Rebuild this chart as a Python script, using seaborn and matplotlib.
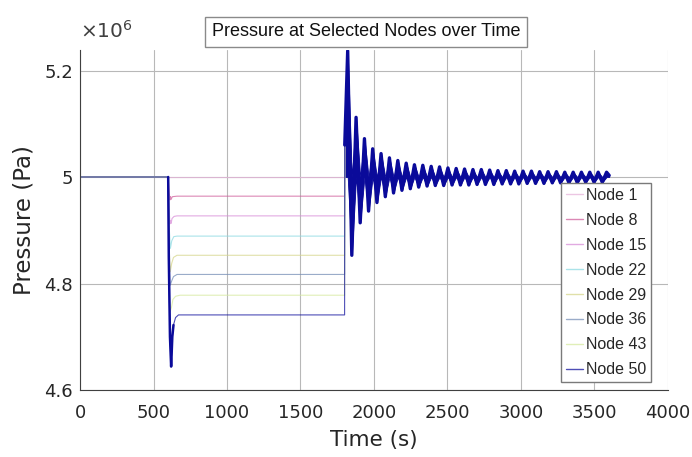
import matplotlib
matplotlib.use("Agg")
import matplotlib.pyplot as plt
import seaborn as sns
import pandas as pd

# ---------------- data (pressure in units of 1e6 Pa) ----------------
node_names = ["Node 1", "Node 8", "Node 15", "Node 22", "Node 29", "Node 36", "Node 43", "Node 50"]
node_colors = ["#e6b4da", "#d0609c", "#d88ed8", "#8edae2", "#d6d68c", "#7890b8", "#d6eaa0", "#12129e"]

# per-node response up to the second event at t = 1800 s
t_n1 = [0, 600, 1800]
p_n1 = [5.000, 4.999, 4.999]
t_n8 = [0, 600, 606, 612, 616, 620, 628, 660, 1800]
p_n8 = [5.000, 5.000, 4.972, 4.957, 4.963, 4.958, 4.963, 4.964, 4.964]
t_n15 = [0, 600, 606, 612, 616, 620, 626, 640, 660, 1800]
p_n15 = [5.000, 5.000, 4.940, 4.912, 4.918, 4.913, 4.922, 4.926, 4.927, 4.927]
t_n22 = [0, 600, 608, 615, 624, 638, 660, 1800]
p_n22 = [5.000, 5.000, 4.900, 4.866, 4.880, 4.888, 4.889, 4.889]
t_n29 = [0, 600, 606, 614, 624, 636, 660, 1800]
p_n29 = [5.000, 5.000, 4.870, 4.822, 4.838, 4.849, 4.853, 4.853]
t_n36 = [0, 600, 606, 614, 624, 636, 660, 1800]
p_n36 = [5.000, 5.000, 4.850, 4.797, 4.805, 4.813, 4.817, 4.817]
t_n43 = [0, 600, 606, 614, 622, 632, 650, 680, 1800]
p_n43 = [5.000, 5.000, 4.800, 4.748, 4.755, 4.770, 4.776, 4.778, 4.778]
t_n50 = [0, 600, 604, 612, 620, 628, 636, 650, 670, 1800]
p_n50 = [5.000, 5.000, 4.850, 4.700, 4.644, 4.700, 4.722, 4.736, 4.741, 4.741]

# damped oscillation band after t = 1800 s: upper edge at the crests, lower edge at the troughs
osc_start_t = [1801]
osc_start_p = [5.060]
osc_peak_t = [1821, 1878, 1935, 1991, 2048, 2105, 2162, 2219, 2275, 2332, 2389, 2446, 2503, 2559,
              2616, 2673, 2730, 2787, 2843, 2900, 2957, 3014, 3071, 3127, 3184, 3241, 3298, 3355,
              3411, 3468, 3525, 3582]
osc_peak_p = [5.237, 5.112, 5.072, 5.053, 5.044, 5.036, 5.031, 5.026, 5.023, 5.022, 5.020, 5.019,
              5.017, 5.016, 5.015, 5.014, 5.014, 5.013, 5.012, 5.012, 5.011, 5.011, 5.011, 5.010,
              5.010, 5.010, 5.009, 5.009, 5.009, 5.009, 5.009, 5.009]
osc_trough_t = [1849, 1906, 1963, 2020, 2077, 2133, 2190, 2247, 2304, 2361, 2417, 2474, 2531, 2588,
                2645, 2701, 2758, 2815, 2872, 2929, 2985, 3042, 3099, 3156, 3213, 3269, 3326, 3383,
                3440, 3497, 3553]
osc_trough_p = [4.853, 4.914, 4.936, 4.952, 4.963, 4.970, 4.975, 4.978, 4.981, 4.983, 4.984, 4.984,
                4.985, 4.985, 4.985, 4.986, 4.986, 4.986, 4.987, 4.987, 4.987, 4.988, 4.988, 4.988,
                4.989, 4.989, 4.989, 4.989, 4.990, 4.990, 4.990]
osc_end_t = [3600]
osc_end_p = [5.003]
osc_base = 5.0

# the dip of Node 50 right after the first event, drawn heavier (dense region)
n50_dip_window = [598, 640]

x_ticks = [0, 500, 1000, 1500, 2000, 2500, 3000, 3500, 4000]
y_ticks = [4.6, 4.8, 5.0, 5.2]
y_tick_labels = ["4.6", "4.8", "5", "5.2"]

title_text = "Pressure at Selected Nodes over Time"
x_label = "Time (s)"
y_label = "Pressure (Pa)"
exponent_text = r"$\times10^{6}$"

# ---------------- build tables ----------------
events = ([(a, b, "start") for a, b in zip(osc_start_t, osc_start_p)]
          + [(a, b, "peak") for a, b in zip(osc_peak_t, osc_peak_p)]
          + [(a, b, "trough") for a, b in zip(osc_trough_t, osc_trough_p)]
          + [(a, b, "end") for a, b in zip(osc_end_t, osc_end_p)])
events.sort(key=lambda e: e[0])
osc_t = [e[0] for e in events]
osc_p = [e[1] for e in events]
band_upper = [e[1] if e[2] in ("peak", "start", "end") else osc_base for e in events]
band_lower = [e[1] if e[2] == "trough" else min(osc_base, e[1]) for e in events]
df_band = pd.DataFrame({"t": osc_t, "p": osc_p, "upper": band_upper, "lower": band_lower})

pre = {
    "Node 1": (t_n1, p_n1), "Node 8": (t_n8, p_n8), "Node 15": (t_n15, p_n15),
    "Node 22": (t_n22, p_n22), "Node 29": (t_n29, p_n29), "Node 36": (t_n36, p_n36),
    "Node 43": (t_n43, p_n43), "Node 50": (t_n50, p_n50),
}
rows = []
for name in node_names:
    tt, pp = pre[name]
    ts = list(tt) + osc_t
    ps = list(pp) + osc_p
    for i, (a, b) in enumerate(zip(ts, ps)):
        rows.append({"node": name, "order": i, "t": a, "p": b})
df = pd.DataFrame(rows)
df_dip = pd.DataFrame({"t": t_n50, "p": p_n50})
df_dip = df_dip[(df_dip["t"] >= n50_dip_window[0]) & (df_dip["t"] <= n50_dip_window[1])]

# ---------------- style ----------------
sns.set_theme(style="white")
plt.rcParams["font.family"] = ["DejaVu Sans"]

label_font = "Liberation Sans"

fig = plt.figure(figsize=(6.92, 4.57), dpi=100)
ax = fig.add_axes([80 / 692, 1 - 390 / 457, 588 / 692, 340 / 457])
ax.set_facecolor("white")

palette = dict(zip(node_names, node_colors))
for name in node_names:
    sub = df[df["node"] == name].sort_values("order")
    sns.lineplot(data=sub, x="t", y="p", ax=ax, color=palette[name], linewidth=0.8, alpha=0.75,
                 sort=False, estimator=None, label=name)

navy = "#0a0a9a"
# dense dip of Node 50 near t = 600 s
sns.lineplot(data=df_dip, x="t", y="p", ax=ax, color=navy, linewidth=1.8,
             sort=False, estimator=None, legend=False)
# the dense band after the second event (all nodes overlap here)
ax.fill_between(df_band["t"], df_band["lower"], df_band["upper"], facecolor=navy,
                edgecolor=navy, linewidth=0.6)
sns.lineplot(data=df_band, x="t", y="p", ax=ax, color=navy, linewidth=2.4,
             sort=False, estimator=None, legend=False)

ax.set_xlim(0, 4000)
ax.set_ylim(4.6, 5.2385)
ax.set_xticks(x_ticks)
ax.set_xticklabels([str(v) for v in x_ticks])
ax.set_yticks(y_ticks)
ax.set_yticklabels(y_tick_labels)
ax.grid(True, color="#b8b8b8", linewidth=0.8)
ax.set_axisbelow(True)
for side in ["top", "right"]:
    ax.spines[side].set_visible(False)
for side in ["left", "bottom"]:
    ax.spines[side].set_color("#404040")
    ax.spines[side].set_linewidth(0.8)
ax.tick_params(axis="both", length=0, labelsize=13, colors="#262626")
ax.tick_params(axis="x", pad=10)
ax.tick_params(axis="y", pad=5)

ax.set_xlabel(x_label, fontsize=15.5, color="#262626", labelpad=6)
ax.set_ylabel(y_label, fontsize=16.5, color="#262626", labelpad=6)

leg = ax.legend(loc="lower right", bbox_to_anchor=(0.971, 0.0235), borderaxespad=0,
                frameon=True, fancybox=False, prop={"family": label_font, "size": 11.5},
                handlelength=1.05, handletextpad=0.2, labelspacing=0.62,
                borderpad=0.3)
leg.get_frame().set_edgecolor("#7a7a7a")
leg.get_frame().set_linewidth(1.0)
leg.get_frame().set_facecolor("white")
leg.get_frame().set_alpha(1)
for h in leg.get_lines():
    h.set_linewidth(1.0)

fig.text(366 / 692, 1 - 32 / 457, title_text, ha="center", va="center", fontsize=13,
         family=label_font, color="#111111",
         bbox=dict(boxstyle="square,pad=0.35", facecolor="white", edgecolor="#8a8a8a", linewidth=1.0))
fig.text(80 / 692, 1 - 31 / 457, exponent_text, ha="left", va="center", fontsize=14.5, color="#404040")

fig.savefig("out.png", dpi=100, facecolor="white")
